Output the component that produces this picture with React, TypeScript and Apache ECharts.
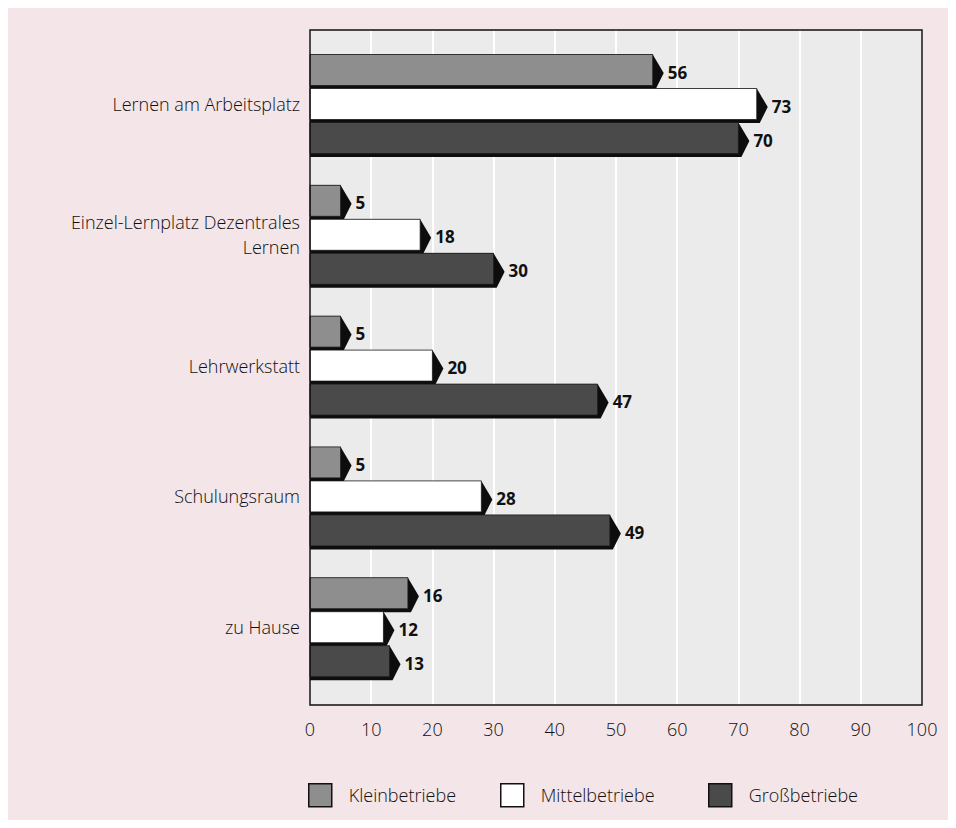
import React, { useEffect, useRef } from "react";
import * as echarts from "echarts";

const categories = [
  "Lernen am Arbeitsplatz",
  "Einzel-Lernplatz Dezentrales\nLernen",
  "Lehrwerkstatt",
  "Schulungsraum",
  "zu Hause",
];
const seriesNames = ["Kleinbetriebe", "Mittelbetriebe", "Großbetriebe"];
const kleinbetriebe = [56, 5, 5, 5, 16];
const mittelbetriebe = [73, 18, 20, 28, 12];
const grossbetriebe = [70, 30, 47, 49, 13];
const xTicks = [0, 10, 20, 30, 40, 50, 60, 70, 80, 90, 100];

const FONT = "'Open Sans', 'Noto Sans', sans-serif";
const TEXT = "#0f0f0f";
const faceColors = ["#8e8e8e", "#ffffff", "#4a4a4a"];

// Bar with a dark drop shadow that ends in an arrow-like tip.
function makeRenderItem(slot: number) {
  return (params: any, api: any) => {
    const v = api.value(0);
    const c = api.value(1);
    const p0 = api.coord([0, c]);
    const p1 = api.coord([v, c]);
    const x0 = p0[0];
    const x1 = p1[0];
    const yc = p0[1] + (slot - 1) * 34;
    const h = 31;
    const yt = yc - h / 2;
    const yb = yc + h / 2;
    return {
      type: "group",
      children: [
        {
          type: "polygon",
          shape: {
            points: [
              [x0, yt],
              [x1, yt],
              [x1 + 11, yc + 3],
              [x1 + 3, yb + 3.5],
              [x0, yb + 3.5],
            ],
          },
          style: { fill: "#0d0d0d" },
        },
        {
          type: "rect",
          shape: { x: x0, y: yt, width: x1 - x0, height: h },
          style: { fill: faceColors[slot], stroke: "#1a1a1a", lineWidth: 0.8 },
        },
        {
          type: "text",
          x: x1 + 15,
          y: yc + 2,
          style: {
            text: String(v),
            fill: "#111",
            font: `bold 17px ${FONT}`,
            verticalAlign: "middle",
            align: "left",
          },
        },
      ],
    };
  };
}

const seriesValues = [kleinbetriebe, mittelbetriebe, grossbetriebe];

export default function App() {
  const ref = useRef<HTMLDivElement>(null);
  useEffect(() => {
    if (!ref.current) return;
    const chart = echarts.init(ref.current, null, { renderer: "svg" });
    const legendLefts = [295, 487, 695];
    chart.setOption({
      animation: false,
      backgroundColor: "#f4e5e8",
      grid: [
        {
          left: 302,
          top: 22,
          width: 612,
          height: 675,
          show: true,
          backgroundColor: "#ebebeb",
          borderWidth: 0,
        },
        { left: 302, top: 30.6, width: 612, height: 654 },
      ],
      graphic: [
        {
          type: "rect",
          z: 100,
          shape: { x: 302, y: 22, width: 612, height: 675 },
          style: { fill: "none", stroke: "#111", lineWidth: 1.5 },
          silent: true,
        },
      ],
      xAxis: [
        {
          gridIndex: 0,
          type: "value",
          min: 0,
          max: 100,
          interval: 10,
          axisLine: { show: false },
          axisTick: { show: false },
          splitLine: { show: true, lineStyle: { color: "#ffffff", width: 2 } },
          axisLabel: {
            margin: 15,
            fontSize: 18,
            fontWeight: 300,
            fontFamily: FONT,
            color: TEXT,
            formatter: (v: number) => (xTicks.includes(v) ? String(v) : ""),
          },
        },
        {
          gridIndex: 1,
          type: "value",
          min: 0,
          max: 100,
          show: false,
        },
      ],
      yAxis: [
        { gridIndex: 0, type: "value", show: false, min: 0, max: 1 },
        {
          gridIndex: 1,
          type: "category",
          inverse: true,
          data: categories,
          axisLine: { show: false },
          axisTick: { show: false },
          splitLine: { show: false },
          axisLabel: {
            margin: 10,
            fontSize: 18,
            fontWeight: 300,
            lineHeight: 25,
            fontFamily: FONT,
            color: TEXT,
            align: "right",
          },
        },
      ],
      legend: seriesNames.map((name, i) => ({
        data: [
          {
            name,
            icon: "rect",
            itemStyle: { color: faceColors[i], borderColor: "#111", borderWidth: 1.5 },
          },
        ],
        left: legendLefts[i],
        top: 770,
        itemWidth: 23,
        itemHeight: 23,
        selectedMode: false,
        textStyle: {
          fontSize: 18,
          fontWeight: 300,
          fontFamily: FONT,
          color: TEXT,
          padding: [0, 0, 0, 12],
        },
      })),
      series: seriesNames.map((name, i) => ({
        name,
        type: "custom",
        xAxisIndex: 1,
        yAxisIndex: 1,
        itemStyle: { color: faceColors[i] },
        encode: { x: 0, y: 1 },
        data: seriesValues[i].map((v, c) => [v, c]),
        renderItem: makeRenderItem(i),
      })),
    });
    return () => chart.dispose();
  }, []);
  return <div ref={ref} style={{ width: 940, height: 812 }} />;
}
